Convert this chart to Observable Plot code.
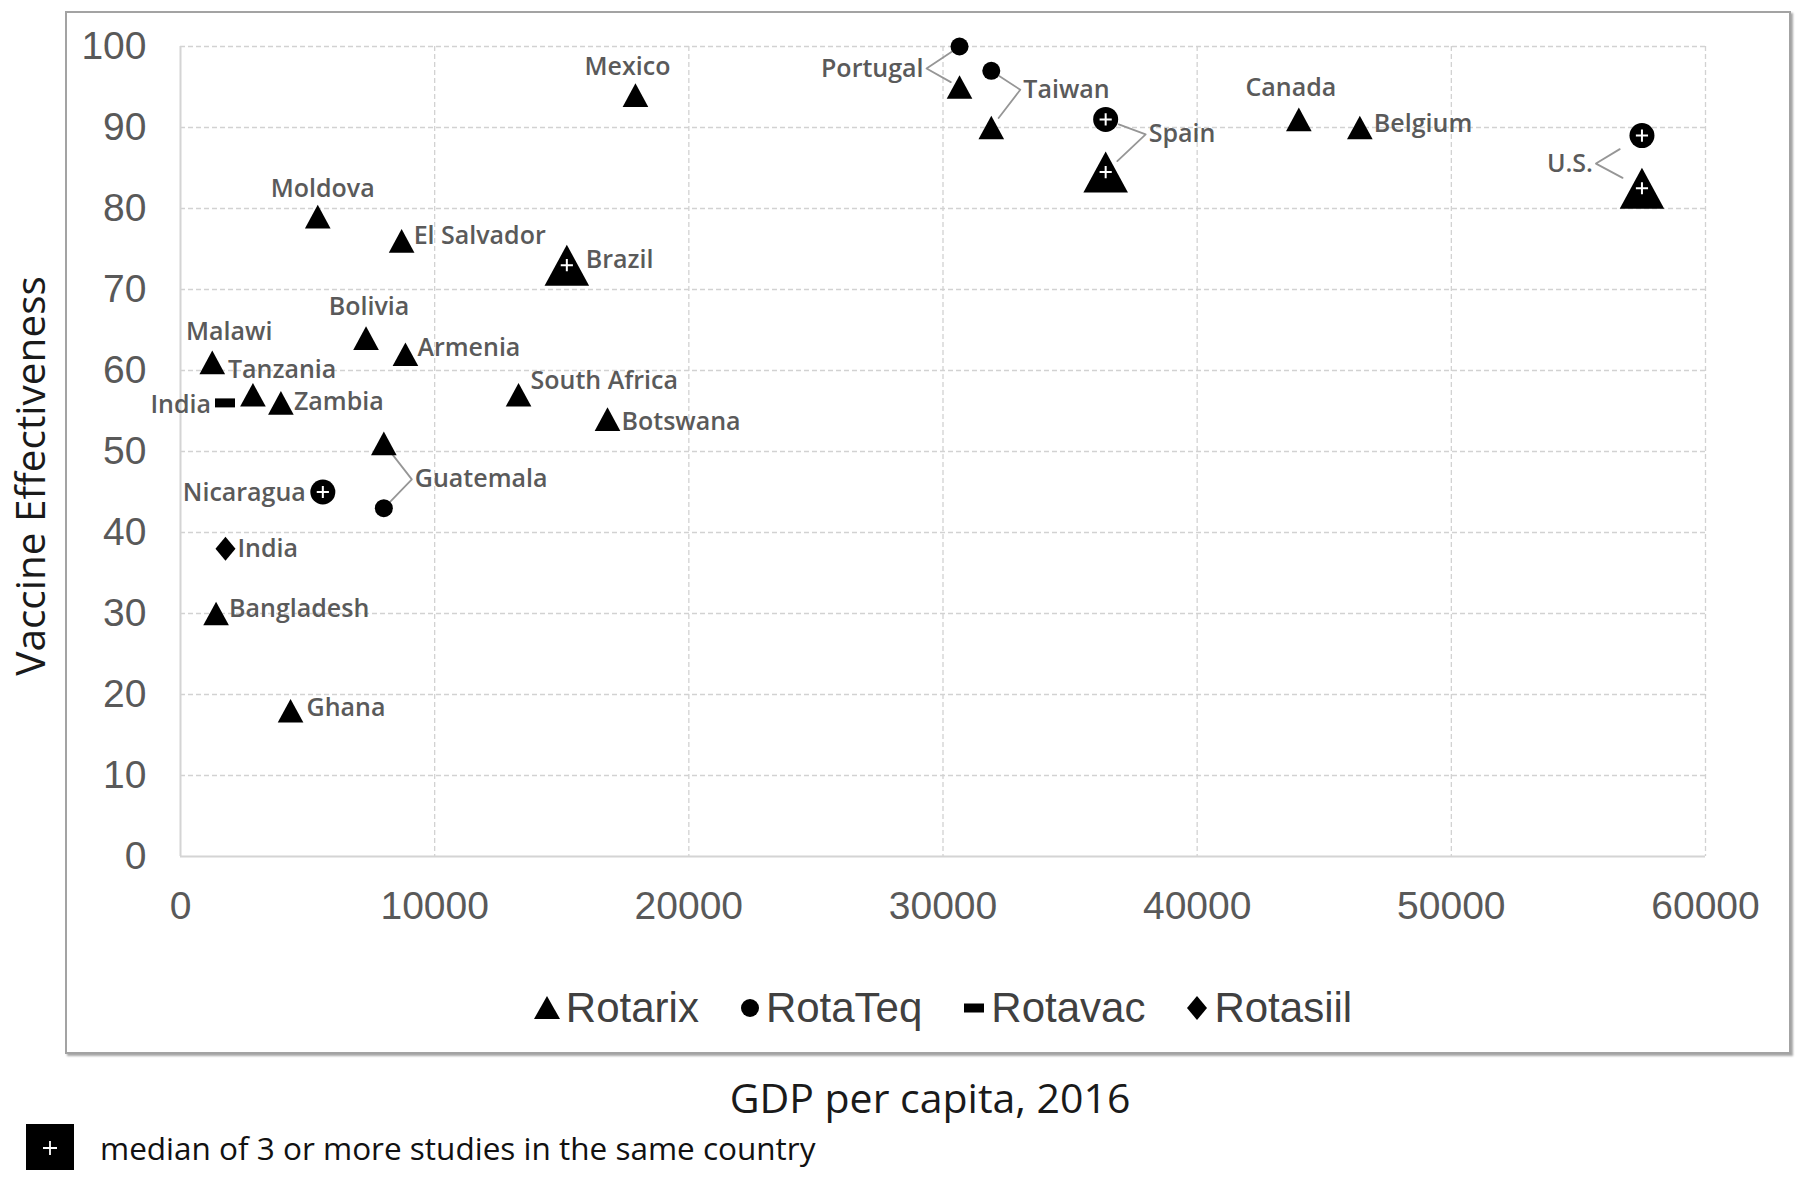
<!DOCTYPE html>
<html>
<head>
<meta charset="utf-8">
<script src="https://cdn.jsdelivr.net/npm/d3@7"></script>
<script src="https://cdn.jsdelivr.net/npm/@observablehq/plot@0.6"></script>
<style>
  html, body { margin: 0; padding: 0; background: #fff; }
  #wrap { position: relative; width: 1800px; height: 1179px; background: #fff; overflow: hidden; }
  #chart { position: absolute; left: 0; top: 0; }
  #box { position: absolute; left: 65px; top: 11px; width: 1722px; height: 1039px;
         border: 2px solid #a3a3a3; box-shadow: 2px 2px 2px rgba(0,0,0,0.35); pointer-events: none; }
  #ytitle { position: absolute; left: 29px; top: 476px; transform: translate(-50%, -50%) rotate(-90deg);
            font-family: "Open Sans", sans-serif; font-size: 40.5px; color: #1a1a1a; white-space: nowrap; }
  #legend { position: absolute; left: 180px; width: 1525px; top: 983px; height: 50px;
            display: flex; align-items: center; justify-content: center;
            font-family: "Liberation Sans", Arial, sans-serif; font-size: 42px; color: #404040; }
  #legend .item { display: flex; align-items: center; margin: 0 20px; }
  #legend svg { margin-right: 5px; }
  #xtitle { position: absolute; left: 930px; top: 1097px; transform: translate(-50%, -50%);
            font-family: "Open Sans", sans-serif; font-size: 41px; color: #1a1a1a; white-space: nowrap; }
  #caption { position: absolute; left: 26px; top: 1124px; height: 46px; display: flex; align-items: center;
             font-family: "Open Sans", sans-serif; font-size: 31.5px; color: #111; white-space: nowrap; }
  #caption svg { margin-right: 26px; }
</style>
</head>
<body>
<div id="wrap">
  <div id="chart"></div>
  <div id="box"></div>
  <div id="ytitle">Vaccine Effectiveness</div>
  <div id="legend"></div>
  <div id="xtitle">GDP per capita, 2016</div>
  <div id="caption"></div>
</div>
<script>
// ---------------- data ----------------
const country = ["Mexico","Portugal","Portugal","Taiwan","Taiwan","Spain","Spain","Canada","Belgium","U.S.","U.S.",
  "Moldova","El Salvador","Brazil","Bolivia","Armenia","Malawi","Tanzania","India","Zambia","South Africa","Botswana",
  "Guatemala","Guatemala","Nicaragua","India","Bangladesh","Ghana"];
const gdp = [17900,30650,30650,31900,31900,36400,36400,44000,46400,57500,57500,
  5400,8700,15200,7300,8850,1250,2850,1750,3950,13300,16800,
  8000,8000,5600,1770,1400,4330];
const effectiveness = [94,100,95,97,90,91,84.5,91,90,89,82.5,
  79,76,73,64,62,61,57,56,56,57,54,
  51,43,45,38,30,18];
const vaccine = ["Rotarix","RotaTeq","Rotarix","RotaTeq","Rotarix","RotaTeq","Rotarix","Rotarix","Rotarix","RotaTeq","Rotarix",
  "Rotarix","Rotarix","Rotarix","Rotarix","Rotarix","Rotarix","Rotarix","Rotavac","Rotarix","Rotarix","Rotarix",
  "Rotarix","RotaTeq","RotaTeq","Rotasiil","Rotarix","Rotarix"];
const median = [false,false,false,false,false,true,true,false,false,true,true,
  false,false,true,false,false,false,false,false,false,false,false,
  false,false,true,false,false,false];
const vaccines = ["Rotarix","RotaTeq","Rotavac","Rotasiil"];
const xTicks = [0,10000,20000,30000,40000,50000,60000];
const yTicks = [0,10,20,30,40,50,60,70,80,90,100];

const points = country.map((c, i) => ({country: c, gdp: gdp[i], ve: effectiveness[i], vaccine: vaccine[i], median: median[i]}));

// ---------------- layout / style ----------------
const W = 1800, H = 930;
const M = {left: 180, right: 95, top: 46, bottom: 74};
const X0 = M.left, X1 = W - M.right, YT = M.top, YB = H - M.bottom;
const xMax = 60000, yMax = 100;
const px = v => X0 + v / xMax * (X1 - X0);
const py = v => YB - v / yMax * (YB - YT);
const ix = p => (p - X0) / (X1 - X0) * xMax;
const iy = p => (YB - p) / (YB - YT) * yMax;

// label placement for single labels: [anchor, dx, dy] in px
const labelLayout = {
  "Mexico|Rotarix": ["middle", -8, -28],
  "Moldova|Rotarix": ["middle", 5, -28],
  "Bolivia|Rotarix": ["middle", 3, -31],
  "Malawi|Rotarix": ["middle", 17, -30],
  "Canada|Rotarix": ["middle", -8, -31],
  "El Salvador|Rotarix": ["start", 12, -5],
  "Brazil|Rotarix": ["start", 19, -5],
  "Armenia|Rotarix": ["start", 12, -6],
  "Tanzania|Rotarix": ["start", -25, -25],
  "Zambia|Rotarix": ["start", 13, -1],
  "India|Rotavac": ["end", -14, 2],
  "South Africa|Rotarix": ["start", 12, -14],
  "Botswana|Rotarix": ["start", 14, 3],
  "Nicaragua|RotaTeq": ["end", -17, 1],
  "India|Rotasiil": ["start", 12, 0],
  "Bangladesh|Rotarix": ["start", 13, -5],
  "Ghana|Rotarix": ["start", 16, -3],
  "Belgium|Rotarix": ["start", 14, -4]
};
// bracketed pairs: indices a (upper) & b (lower), vertex offset from a (px), gaps
const pairs = [
  {label: "Portugal", a: 1, b: 2, dx: -33, dy: 22, anchor: "end", gapA: 8, gapB: 10},
  {label: "Taiwan", a: 3, b: 4, dx: 29, dy: 19, anchor: "start", gapA: 9, gapB: 12},
  {label: "Spain", a: 5, b: 6, dx: 40, dy: 15, anchor: "start", gapA: 14, gapB: 16},
  {label: "U.S.", a: 9, b: 10, dx: -46, dy: 28, anchor: "end", gapA: 26, gapB: 22},
  {label: "Guatemala", a: 22, b: 23, dx: 28, dy: 36, anchor: "start", gapA: 12, gapB: 10}
];

const leader = [];
const pairLabels = [];
for (const p of pairs) {
  const A = points[p.a], B = points[p.b];
  const ax = px(A.gdp), ay = py(A.ve), bx = px(B.gdp), by = py(B.ve);
  const vx = ax + p.dx, vy = ay + p.dy;
  const shorten = (sx, sy, g) => { const L = Math.hypot(vx - sx, vy - sy); return [sx + (vx - sx) * g / L, sy + (vy - sy) * g / L]; };
  const [a2x, a2y] = shorten(ax, ay, p.gapA);
  const [b2x, b2y] = shorten(bx, by, p.gapB);
  leader.push({z: p.label, x: ix(a2x), y: iy(a2y)}, {z: p.label, x: ix(vx), y: iy(vy)}, {z: p.label, x: ix(b2x), y: iy(b2y)});
  pairLabels.push({label: p.label, x: ix(vx), y: iy(vy), anchor: p.anchor});
}

// custom symbols
const sym = {
  triangle: {draw(ctx, size) { const r = Math.sqrt(size / Math.PI); const w = 1.35 * r, h = 1.24 * r;
    ctx.moveTo(0, -h); ctx.lineTo(w, h); ctx.lineTo(-w, h); ctx.closePath(); }},
  rect: {draw(ctx, size) { ctx.rect(-10, -4.5, 20, 9); }},
  diamond: {draw(ctx, size) { ctx.moveTo(0, -12); ctx.lineTo(10, 0); ctx.lineTo(0, 12); ctx.lineTo(-10, 0); ctx.closePath(); }}
};
const symbolOf = {Rotarix: sym.triangle, RotaTeq: "circle", Rotavac: sym.rect, Rotasiil: sym.diamond};
const sizeOf = (v, med) => v === "Rotarix" ? (med ? 16.5 : 9.5) : v === "RotaTeq" ? (med ? 12.5 : 9) : 10;

const dotMarks = [];
for (const v of vaccines) {
  for (const med of [false, true]) {
    const sub = points.filter(d => d.vaccine === v && d.median === med);
    if (!sub.length) continue;
    dotMarks.push(Plot.dot(sub, {x: "gdp", y: "ve", symbol: symbolOf[v], r: sizeOf(v, med), fill: "black", stroke: "none"}));
  }
}
const plusMark = Plot.dot(points.filter(d => d.median), {x: "gdp", y: "ve", symbol: "plus", r: 4, stroke: "white", strokeWidth: 2});

const textStyle = {fontFamily: "Open Sans, sans-serif", fontSize: 25, fontWeight: 600, fill: "#5a5a5a"};
const labelMarks = points.map(d => {
  const L = labelLayout[d.country + "|" + d.vaccine];
  if (!L) return null;
  return Plot.text([d], {x: "gdp", y: "ve", text: "country", textAnchor: L[0], dx: L[1], dy: L[2], ...textStyle});
}).filter(Boolean);
const pairLabelMarks = pairLabels.map(p => Plot.text([p], {x: "x", y: "y", text: "label", textAnchor: p.anchor,
  dx: p.anchor === "end" ? -3 : 3, dy: 0, ...textStyle}));

const plot = Plot.plot({
  width: W, height: H,
  marginLeft: M.left, marginRight: M.right, marginTop: M.top, marginBottom: M.bottom,
  style: {background: "transparent", fontFamily: "Liberation Sans, Arial, sans-serif"},
  x: {domain: [0, xMax], axis: null},
  y: {domain: [0, yMax], axis: null},
  marks: [
    Plot.gridX(xTicks.slice(1), {stroke: "#d2d2d2", strokeOpacity: 1, strokeWidth: 1.3, strokeDasharray: "5,3"}),
    Plot.gridY(yTicks.slice(1), {stroke: "#d2d2d2", strokeOpacity: 1, strokeWidth: 1.3, strokeDasharray: "5,3"}),
    Plot.ruleX([0], {stroke: "#d4d4d4", strokeWidth: 2}),
    Plot.ruleY([0], {stroke: "#d4d4d4", strokeWidth: 2}),
    Plot.axisX(xTicks, {tickSize: 0, tickPadding: 35, fontSize: 39, fill: "#595959", tickFormat: "d", label: null}),
    Plot.axisY(yTicks, {tickSize: 0, tickPadding: 34, fontSize: 39, fill: "#595959", tickFormat: "d", label: null}),
    Plot.line(leader, {x: "x", y: "y", z: "z", stroke: "#969696", strokeWidth: 1.8}),
    ...dotMarks,
    plusMark,
    ...labelMarks,
    ...pairLabelMarks
  ]
});
document.getElementById("chart").appendChild(plot);

// ---------------- legend (HTML) ----------------
const legendSvg = {
  Rotarix: '<svg width="28" height="28" viewBox="-14 -14 28 28"><path d="M0,-12L13,11L-13,11Z" fill="black"/></svg>',
  RotaTeq: '<svg width="22" height="22" viewBox="-11 -11 22 22"><circle r="9" fill="black"/></svg>',
  Rotavac: '<svg width="24" height="14" viewBox="-12 -7 24 14"><rect x="-10" y="-4.5" width="20" height="9" fill="black"/></svg>',
  Rotasiil: '<svg width="24" height="28" viewBox="-12 -14 24 28"><path d="M0,-12L10,0L0,12L-10,0Z" fill="black"/></svg>'
};
document.getElementById("legend").innerHTML = vaccines.map(v =>
  `<div class="item">${legendSvg[v]}<span>${v}</span></div>`).join("");
document.getElementById("caption").innerHTML =
  '<svg width="48" height="46" viewBox="0 0 48 46"><rect width="48" height="46" fill="black"/><path d="M17,24H31M24,17V31" stroke="white" stroke-width="1.8"/></svg>' +
  '<span>median of 3 or more studies in the same country</span>';
</script>
</body>
</html>
